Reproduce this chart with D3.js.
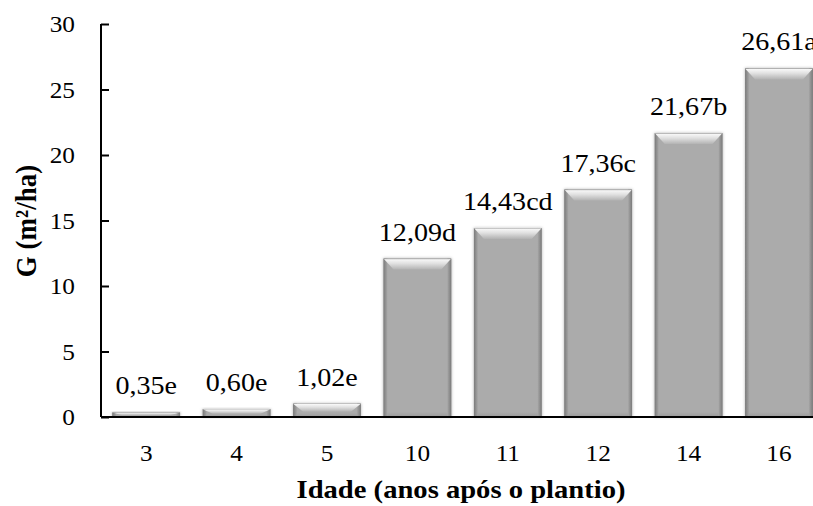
<!DOCTYPE html>
<html><head><meta charset="utf-8">
<script src="https://cdn.jsdelivr.net/npm/d3@7/dist/d3.min.js"></script>
<style>body{margin:0;background:#fff}svg{display:block}</style>
</head><body><svg id="c" width="813" height="506" font-family="'Liberation Serif', 'Times New Roman', Tinos, Times, serif"></svg>
<script>
const categories = ["3","4","5","10","11","12","14","16"];
const values = [0.35,0.60,1.02,12.09,14.43,17.36,21.67,26.61];
const labels = ["0,35e","0,60e","1,02e","12,09d","14,43cd","17,36c","21,67b","26,61a"];
const yTicks = [0,5,10,15,20,25,30];

const svg = d3.select("#c");
const x0 = 101, yTop = 24, yBase = 417;
const x = d3.scaleBand().domain(categories).range([x0, x0 + 8*90.4]).paddingInner(0.25).paddingOuter(0.125);
const y = d3.scaleLinear().domain([0,30]).range([yBase, yTop]);

const defs = svg.append("defs");
function lg(id, x1,y1,x2,y2, stops){
  const g = defs.append("linearGradient").attr("id",id).attr("x1",x1).attr("y1",y1).attr("x2",x2).attr("y2",y2);
  stops.forEach(s=>g.append("stop").attr("offset",s[0]).attr("stop-color",s[1]));
}
lg("gTop",0,0,0,1,[[0,"#9a9a9a"],[0.1,"#f6f6f6"],[0.45,"#e0e0e0"],[1,"#b2b2b2"]]);
lg("gL",0,0,1,0,[[0,"#7a7a7a"],[1,"#a6a6a6"]]);
lg("gR",0,0,1,0,[[0,"#a6a6a6"],[1,"#7a7a7a"]]);
lg("gB",0,0,0,1,[[0,"#ababab"],[1,"#9a9a9a"]]);
const f = defs.append("filter").attr("id","sh").attr("x","-20%").attr("y","-20%").attr("width","140%").attr("height","140%");
f.append("feDropShadow").attr("dx",0).attr("dy",0).attr("stdDeviation",1.8).attr("flood-color","#000").attr("flood-opacity",0.3);

const bars = svg.append("g").selectAll("g").data(values).join("g").attr("filter","url(#sh)");
bars.each(function(v,i){
  const g = d3.select(this);
  const bx = x(categories[i]), bw = x.bandwidth(), by = y(v), bh = yBase - by;
  const b = Math.min(11, bh*0.6), s = Math.min(10, bw/2), sw = 4, bb = Math.min(5, bh*0.3);
  g.append("rect").attr("x",bx).attr("y",by).attr("width",bw).attr("height",bh).attr("fill","#ababab");
  g.append("path").attr("fill","url(#gB)").attr("d",`M${bx},${by+bh}L${bx+sw},${by+bh-bb}L${bx+bw-sw},${by+bh-bb}L${bx+bw},${by+bh}Z`);
  g.append("rect").attr("fill","url(#gL)").attr("x",bx).attr("y",by).attr("width",sw).attr("height",bh);
  g.append("rect").attr("fill","url(#gR)").attr("x",bx+bw-sw).attr("y",by).attr("width",sw).attr("height",bh);
  g.append("path").attr("fill","url(#gTop)").attr("d",`M${bx},${by}L${bx+bw},${by}L${bx+bw-s},${by+b}L${bx+s},${by+b}Z`);
});

// data labels
svg.append("g").selectAll("text").data(values).join("text")
  .attr("transform",(v,i)=>`translate(${x(categories[i])+x.bandwidth()/2},${y(v)-18}) scale(1.08,1)`)
  .attr("text-anchor","middle").attr("font-size",26).text((v,i)=>labels[i]);

// y axis
const ya = svg.append("g").attr("transform",`translate(${x0},0)`)
  .call(d3.axisRight(y).tickValues(yTicks).tickSize(8).tickFormat(""));
ya.select(".domain").attr("stroke","#000").attr("stroke-width",2).attr("d",`M0,${yTop}V${yBase}`);
ya.selectAll(".tick line").attr("stroke","#000").attr("stroke-width",2);
svg.append("g").selectAll("text").data(yTicks).join("text")
  .attr("transform",d=>`translate(75,${y(d)+8}) scale(1.1,1)`)
  .attr("text-anchor","end").attr("font-size",23).text(d=>d);

// x axis
const xa = svg.append("g").attr("transform",`translate(0,${yBase})`)
  .call(d3.axisBottom(x).tickSize(0).tickFormat(""));
xa.select(".domain").attr("stroke","#000").attr("stroke-width",2).attr("d",`M${x0},0H813`);
svg.append("g").selectAll("text").data(categories).join("text")
  .attr("transform",d=>`translate(${x(d)+x.bandwidth()/2},461) scale(1.1,1)`)
  .attr("text-anchor","middle").attr("font-size",23).text(d=>d);

// titles
svg.append("text").attr("transform","translate(461,498) scale(1.1,1)").attr("text-anchor","middle")
  .attr("font-size",26).attr("font-weight","bold").text("Idade (anos após o plantio)");
svg.append("text").attr("transform","translate(36,221) rotate(-90) scale(1,1.1)").attr("text-anchor","middle")
  .attr("font-size",27).attr("font-weight","bold").text("G (m²/ha)");
</script></body></html>
